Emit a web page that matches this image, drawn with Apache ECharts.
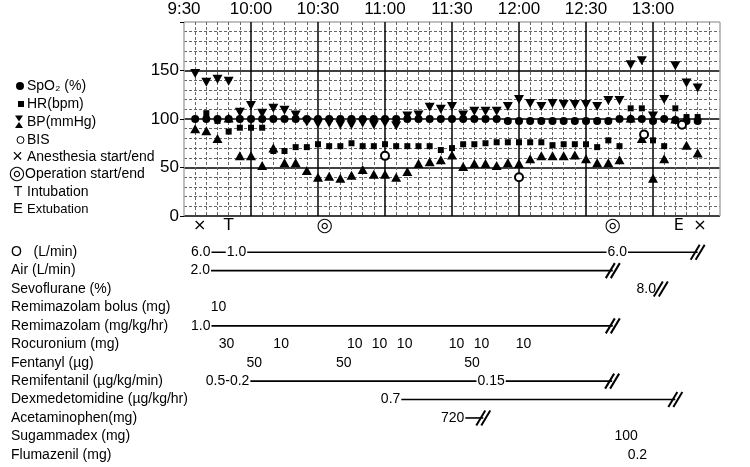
<!DOCTYPE html>
<html>
<head>
<meta charset="utf-8">
<script src="https://cdn.jsdelivr.net/npm/echarts@6/dist/echarts.min.js"></script>
<style>
  html, body { margin: 0; padding: 0; background: #fff; }
  #main { width: 750px; height: 467px; }
</style>
</head>
<body>
<div id="main"></div>
<script>
// vital signs, one reading every 5 min
var vitalTimes = ['9:35','9:40','9:45','9:50','9:55','10:00','10:05','10:10','10:15','10:20',
  '10:25','10:30','10:35','10:40','10:45','10:50','10:55','11:00','11:05','11:10',
  '11:15','11:20','11:25','11:30','11:35','11:40','11:45','11:50','11:55','12:00',
  '12:05','12:10','12:15','12:20','12:25','12:30','12:35','12:40','12:45','12:50',
  '12:55','13:00','13:05','13:10','13:15','13:20'];
var spo2 = [100,100,100,100,100,100,100,100,100,100,100,100,100,100,100,100,100,100,100,100,
  100,100,100,100,100,100,100,100,98,98,98,98,98,98,98,98,98,98,100,100,100,98,100,99,98,98];
var hr = [null,106,98,87,91,91,91,67,67,71,71,74,72,72,75,72,72,74,72,72,
  72,72,68,70,74,74,75,76,76,76,76,76,73,74,74,74,71,78,72,111,111,78,72,111,102,102];
var sbp = [147,138,141,139,107,114,106,111,109,104,97,95,96,94,94,96,94,96,93,103,
  104,112,110,113,104,108,108,108,113,120,116,113,116,115,115,115,113,119,119,156,160,103,120,155,137,132];
var dbp = [90,88,80,101,62,62,52,70,55,55,47,40,41,39,42,48,43,43,40,46,
  54,56,58,63,51,54,54,52,55,54,59,62,62,62,63,59,55,55,58,101,80,39,59,100,73,65];
var bisTimes = ['11:00','12:00','12:56','13:13'];
var bis = [62,40,84,94];

// events below the grid (minutes after 9:30)
var eventTimes = [7, 20, 63, 192, 221.5, 231];
var eventMarks = ['×', 'T', '◎', '◎', 'E', '×'];

// drug table
var drugNames = ['O   (L/min)', 'Air (L/min)', 'Sevoflurane (%)', 'Remimazolam bolus (mg)',
  'Remimazolam (mg/kg/hr)', 'Rocuronium (mg)', 'Fentanyl (µg)', 'Remifentanil (µg/kg/min)',
  'Dexmedetomidine (µg/kg/hr)', 'Acetaminophen(mg)', 'Sugammadex (mg)', 'Flumazenil (mg)'];
var doseRows  = [0, 0, 0, 1, 2, 3, 4, 5, 5, 5, 5, 5, 5, 5, 5, 6, 6, 6, 7, 7, 8, 9, 10, 11];
var doseTimes = [7.5, 23.5, 194, 7.3, 207, 15.5, 7.5, 19, 43.5, 76.5, 87.5, 98.8, 122, 133.2, 152,
  31.5, 71.5, 129, 19.5, 137.5, 92.5, 120.3, 198, 203];
var doseLabels = ['6.0', '1.0', '6.0', '2.0', '8.0', '10', '1.0', '30', '10', '10', '10', '10', '10', '10', '10',
  '50', '50', '50', '0.5-0.2', '0.15', '0.7', '720', '100', '0.2'];
var infusionRows  = [0, 1, 4, 7, 8, 9];
var infusionStart = [7.5, 7.3, 7.5, 19.5, 92.5, 120.3];
var infusionEnd   = [230, 192, 192, 191.7, 220, 134];
var breakRows  = [0, 1, 2, 4, 7, 8, 9];
var breakTimes = [230, 192, 213.5, 192, 191.7, 220, 134];

function toMin(s) {
  var p = s.split(':');
  return (+p[0]) * 60 + (+p[1]) - 570;
}
function pairs(times, vals) {
  var out = [];
  for (var i = 0; i < times.length; i++) {
    if (vals[i] != null) out.push([toMin(times[i]), vals[i]]);
  }
  return out;
}
function timeText(v) {
  if (v >= 240) return '';
  var m = 570 + v;
  var mm = m % 60;
  return Math.floor(m / 60) + ':' + (mm < 10 ? '0' + mm : mm);
}

var FONT = 'Liberation Sans, Arial, sans-serif';

var doseData = [];
for (var i = 0; i < doseRows.length; i++) doseData.push([doseTimes[i], doseRows[i], doseLabels[i]]);
var infusionData = [];
for (var i = 0; i < infusionRows.length; i++) infusionData.push([infusionRows[i], infusionStart[i], infusionEnd[i]]);
var breakData = [];
for (var i = 0; i < breakRows.length; i++) breakData.push([breakTimes[i], breakRows[i]]);
var eventData = [];
for (var i = 0; i < eventTimes.length; i++) {
  eventData.push({
    value: [eventTimes[i], 0.5, eventMarks[i]],
    label: { fontSize: eventMarks[i] === '◎' ? 19 : 16 }
  });
}

function legendText(y, txt, x, size) {
  return { type: 'text', x: x || 27, y: y,
    style: { text: txt, fontSize: size || 14, fontFamily: FONT, fill: '#000', verticalAlign: 'middle' } };
}
function legendGlyph(y, txt, x, size, fam) {
  return { type: 'text', x: x, y: y,
    style: { text: txt, fontSize: size, fontFamily: fam || FONT, fill: '#000', align: 'center', verticalAlign: 'middle' } };
}

var black = { color: '#000', opacity: 1 };
var hidden = { color: 'rgba(0,0,0,0)', opacity: 1 };

var myChart = echarts.init(document.getElementById('main'));
var option = {
  animation: false,
  backgroundColor: '#fff',
  textStyle: { fontFamily: FONT },
  grid: [
    { left: 184, right: 30, top: 22, height: 194 },
    { left: 184, right: 30, top: 218, height: 16 },
    { left: 184, right: 30, top: 243, height: 221 }
  ],
  xAxis: [
    {
      gridIndex: 0, type: 'value', min: 0, max: 240, interval: 30, position: 'top',
      axisLine: { show: false }, axisTick: { show: false },
      axisLabel: { formatter: timeText, fontSize: 17, color: '#000', margin: 4, fontFamily: FONT },
      splitLine: { show: true, lineStyle: { color: ['#aaa','#000','#000','#000','#000','#000','#000','#000','#aaa'], width: 1.5 } },
      minorTick: { show: false, splitNumber: 6 },
      minorSplitLine: { show: true, lineStyle: { color: '#666', type: [3, 2], width: 1 } }
    },
    { gridIndex: 1, type: 'value', min: 0, max: 240, show: false },
    { gridIndex: 2, type: 'value', min: 0, max: 240, show: false }
  ],
  yAxis: [
    {
      gridIndex: 0, type: 'value', min: 0, max: 200, interval: 50,
      axisLine: { show: false },
      axisTick: { show: true, length: 4, lineStyle: { color: '#000' } },
      axisLabel: { formatter: function (v) { return v >= 200 ? '' : v; }, fontSize: 17, color: '#000', margin: 5, fontFamily: FONT },
      splitLine: { show: true, lineStyle: { color: ['#000','#000','#000','#000','#aaa'], width: 1.5 } },
      minorTick: { show: false, splitNumber: 5 },
      minorSplitLine: { show: true, lineStyle: { color: '#666', type: [3, 2], width: 1 } }
    },
    { gridIndex: 1, type: 'value', min: 0, max: 1, show: false },
    {
      gridIndex: 2, type: 'category', data: drugNames, inverse: true,
      axisLine: { show: false }, axisTick: { show: false }, splitLine: { show: false },
      axisLabel: { align: 'left', margin: 173, fontSize: 14, color: '#000', fontFamily: FONT }
    }
  ],
  graphic: [
    { type: 'circle', shape: { cx: 20, cy: 86, r: 4 }, style: { fill: '#000' } },
    legendText(86, 'SpO₂ (%)'),
    { type: 'rect', shape: { x: 18, y: 101, width: 6, height: 6 }, style: { fill: '#000' } },
    legendText(104, 'HR(bpm)'),
    { type: 'polygon', shape: { points: [[15, 115.5], [23, 115.5], [19, 121.5]] }, style: { fill: '#000' } },
    { type: 'polygon', shape: { points: [[15, 128], [23, 128], [19, 122]] }, style: { fill: '#000' } },
    legendText(122, 'BP(mmHg)'),
    { type: 'circle', shape: { cx: 20.5, cy: 140, r: 3.5 }, style: { fill: '#fff', stroke: '#000', lineWidth: 1 } },
    legendText(140, 'BIS'),
    legendGlyph(157, '×', 17.5, 18),
    legendText(157, 'Anesthesia start/end'),
    legendGlyph(174.5, '◎', 17, 19, 'DejaVu Sans'),
    legendText(174.5, 'Operation start/end', 25),
    legendGlyph(192, 'T', 18, 14),
    legendText(192, 'Intubation'),
    legendGlyph(209, 'E', 18, 15),
    legendText(209, 'Extubation', 27, 13)
  ],
  series: [
    {
      name: 'SpO2', type: 'scatter', xAxisIndex: 0, yAxisIndex: 0,
      symbol: 'circle', symbolSize: 8, itemStyle: black,
      data: pairs(vitalTimes, spo2)
    },
    {
      name: 'HR', type: 'scatter', xAxisIndex: 0, yAxisIndex: 0,
      symbol: 'rect', symbolSize: 6, itemStyle: black,
      data: pairs(vitalTimes, hr)
    },
    {
      name: 'BP sys', type: 'scatter', xAxisIndex: 0, yAxisIndex: 0,
      symbol: 'triangle', symbolRotate: 180, symbolSize: [10, 9], itemStyle: black,
      data: pairs(vitalTimes, sbp)
    },
    {
      name: 'BP dia', type: 'scatter', xAxisIndex: 0, yAxisIndex: 0,
      symbol: 'triangle', symbolSize: [10, 9], itemStyle: black,
      data: pairs(vitalTimes, dbp)
    },
    {
      name: 'BIS', type: 'scatter', xAxisIndex: 0, yAxisIndex: 0, z: 4,
      symbol: 'emptyCircle', symbolSize: 8, itemStyle: { color: '#000', opacity: 1, borderWidth: 1 },
      data: pairs(bisTimes, bis)
    },
    {
      name: 'events', type: 'scatter', xAxisIndex: 1, yAxisIndex: 1,
      symbolSize: 1, itemStyle: hidden,
      label: {
        show: true, position: 'inside', color: '#000', fontSize: 16, fontFamily: 'DejaVu Sans, ' + FONT,
        textBorderWidth: 0,
        formatter: function (p) { return p.value[2]; }
      },
      data: eventData
    },
    {
      name: 'infusions', type: 'custom', xAxisIndex: 2, yAxisIndex: 2,
      encode: { x: [1, 2], y: 0 },
      renderItem: function (params, api) {
        var a = api.coord([api.value(1), api.value(0)]);
        var b = api.coord([api.value(2), api.value(0)]);
        return { type: 'line', shape: { x1: a[0], y1: a[1], x2: b[0], y2: b[1] },
          style: { stroke: '#000', lineWidth: 1.6 } };
      },
      data: infusionData
    },
    {
      name: 'breaks', type: 'custom', xAxisIndex: 2, yAxisIndex: 2, z: 6,
      encode: { x: 0, y: 1 },
      renderItem: function (params, api) {
        var p = api.coord([api.value(0), api.value(1)]);
        var kids = [];
        [-2.5, 2.5].forEach(function (dx) {
          kids.push({ type: 'line',
            shape: { x1: p[0] + dx - 4.5, y1: p[1] + 7.5, x2: p[0] + dx + 4.5, y2: p[1] - 7.5 },
            style: { stroke: '#000', lineWidth: 2 } });
        });
        return { type: 'group', children: kids };
      },
      data: breakData
    },
    {
      name: 'doses', type: 'scatter', xAxisIndex: 2, yAxisIndex: 2, z: 5,
      symbolSize: 1, itemStyle: hidden,
      label: {
        show: true, position: 'inside', color: '#000', fontSize: 14, fontFamily: FONT,
        textBorderWidth: 0, backgroundColor: '#fff', padding: [1, 1],
        formatter: function (p) { return p.value[2]; }
      },
      data: doseData
    }
  ]
};
myChart.setOption(option);
</script>
</body>
</html>
